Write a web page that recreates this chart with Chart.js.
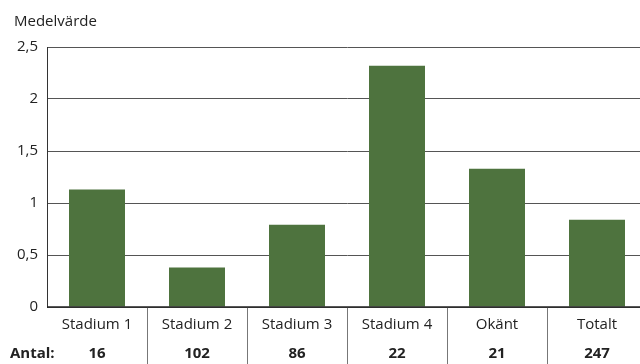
<!DOCTYPE html>
<html>
<head>
<meta charset="utf-8">
<script src="https://cdn.jsdelivr.net/npm/chart.js@4/dist/chart.umd.min.js"></script>
<style>
  html, body { margin: 0; padding: 0; background: #fff; overflow: hidden; }
  /* plot area runs a few pixels past the right edge, as in the reference */
  #wrap { width: 647px; height: 364px; position: relative; }
</style>
</head>
<body>
<div id="wrap"><canvas id="chart"></canvas></div>
<script>
// data
var categories = ['Stadium 1', 'Stadium 2', 'Stadium 3', 'Stadium 4', 'Okänt', 'Totalt'];
var means = [1.13, 0.38, 0.79, 2.32, 1.33, 0.84];
var counts = ['16', '102', '86', '22', '21', '247'];
var yTitle = 'Medelvärde';
var countLabel = 'Antal:';

var FONT = '"Open Sans", sans-serif';
var TEXT = '#222';

// title above the y axis, the "Antal" row and the column separators
var extras = {
    id: 'extras',
    afterDraw: function (chart) {
        var ctx = chart.ctx;
        var x = chart.scales.x;
        var area = chart.chartArea;
        ctx.save();
        ctx.fillStyle = TEXT;
        ctx.textBaseline = 'middle';
        ctx.font = '15px ' + FONT;
        ctx.textAlign = 'left';
        ctx.fillText(yTitle, 14, 22);

        ctx.font = 'bold 15px ' + FONT;
        ctx.fillText(countLabel, 10, 354);
        ctx.textAlign = 'center';
        counts.forEach(function (c, i) {
            ctx.fillText(c, x.getPixelForValue(i), 354);
        });

        ctx.strokeStyle = '#777';
        ctx.lineWidth = 1;
        for (var i = 0; i < categories.length - 1; i++) {
            var px = Math.round((x.getPixelForValue(i) + x.getPixelForValue(i + 1)) / 2) + 0.5;
            ctx.beginPath();
            ctx.moveTo(px, area.bottom);
            ctx.lineTo(px, chart.height);
            ctx.stroke();
        }
        // zero line on top
        ctx.strokeStyle = '#222';
        ctx.lineWidth = 1.5;
        ctx.beginPath();
        ctx.moveTo(area.left, area.bottom);
        ctx.lineTo(chart.width, area.bottom);
        ctx.stroke();
        ctx.restore();
    }
};

new Chart(document.getElementById('chart'), {
    type: 'bar',
    data: {
        labels: categories,
        datasets: [{
            data: means,
            backgroundColor: '#4e733e',
            borderWidth: 0,
            barPercentage: 0.56,
            categoryPercentage: 1
        }]
    },
    options: {
        responsive: true,
        maintainAspectRatio: false,
        animation: false,
        layout: { padding: { top: 47, right: 0, bottom: 0, left: 0 } },
        plugins: {
            legend: { display: false },
            tooltip: { enabled: false }
        },
        scales: {
            x: {
                grid: { display: false, drawTicks: false },
                border: { display: false },
                ticks: {
                    color: TEXT,
                    font: { family: FONT, size: 15 },
                    padding: 9,
                    maxRotation: 0
                },
                afterFit: function (s) { s.height = 57; }
            },
            y: {
                min: 0,
                max: 2.5,
                ticks: {
                    stepSize: 0.5,
                    color: TEXT,
                    font: { family: FONT, size: 15 },
                    padding: 9,
                    callback: function (v) { return String(v).replace('.', ','); }
                },
                grid: { color: '#555', lineWidth: 1, drawTicks: false },
                border: { display: true, color: '#333', width: 1 },
                afterFit: function (s) { s.width = 47; }
            }
        }
    },
    plugins: [extras]
});
</script>
</body>
</html>
